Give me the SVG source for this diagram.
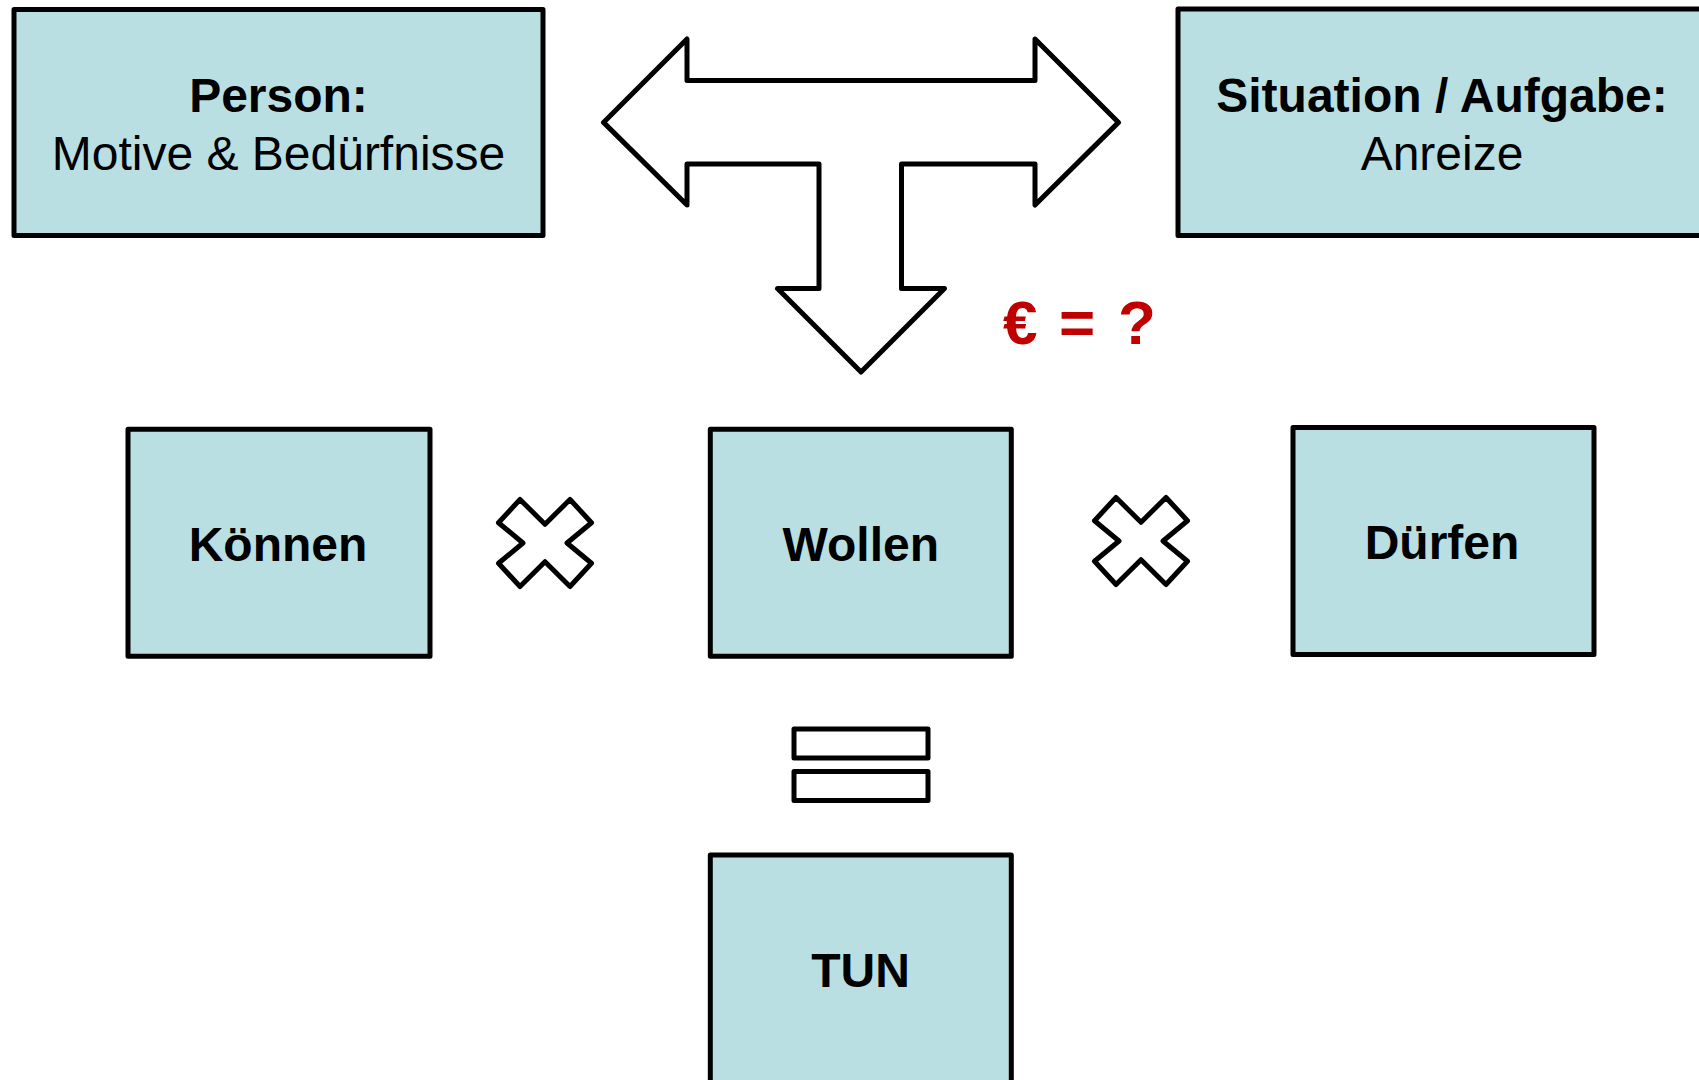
<svg xmlns="http://www.w3.org/2000/svg" width="1699" height="1080" viewBox="0 0 1699 1080">
<style>
.box{fill:#BADFE3;stroke:#000;stroke-width:5;stroke-linejoin:round}
.shape{fill:#fff;stroke:#000;stroke-width:5;stroke-linejoin:round}
.t{font-family:"Liberation Sans",Arial,sans-serif;font-size:48px;fill:#000;text-anchor:middle}
.b{font-weight:bold}
</style>
<rect width="1699" height="1080" fill="#fff"/>
<g id="person">
<rect class="box" x="14" y="9.5" width="529" height="226"/>
<text class="t b" x="278.5" y="111.5">Person:</text>
<text class="t" x="278.5" y="169.5">Motive &amp; Bedürfnisse</text>
</g>
<g id="situation">
<rect class="box" x="1178" y="9" width="560" height="226.5"/>
<text class="t b" x="1442" y="111.5">Situation / Aufgabe:</text>
<text class="t" x="1442" y="169.5">Anreize</text>
</g>
<g id="connectors">
<polygon id="t-arrow" class="shape" points="603.5,122.4 687,39 687,80.5 1035,80.5 1035,39 1118.5,122.4 1035,205 1035,164 901.5,164 901.5,288.5 944.5,288.5 861,372 777.5,288.5 819,288.5 819,164 687,164 687,205"/>
<polygon id="times1" class="shape" transform="translate(545,543)" points="-46.5,-20.3 -25,-43.5 0,-18.7 25,-43.5 46.5,-20.3 22,0 46.5,20.3 25,43.5 0,18.7 -25,43.5 -46.5,20.3 -22,0"/>
<polygon id="times2" class="shape" transform="translate(1141,541)" points="-46.5,-20.3 -25,-43.5 0,-18.7 25,-43.5 46.5,-20.3 22,0 46.5,20.3 25,43.5 0,18.7 -25,43.5 -46.5,20.3 -22,0"/>
<g id="equals">
<rect class="shape" x="794" y="729" width="134" height="29"/>
<rect class="shape" x="794" y="771.5" width="134" height="29"/>
</g>
</g>
<g id="euro">
<text y="344" style="font-family:'Liberation Sans',Arial,sans-serif;font-size:62px;font-weight:bold;fill:#C00000"><tspan x="1003">€</tspan><tspan x="1059">=</tspan><tspan x="1118">?</tspan></text>
</g>
<g id="koennen">
<rect class="box" x="128" y="429.3" width="302" height="227"/>
<text class="t b" x="278" y="560.5">Können</text>
</g>
<g id="wollen">
<rect class="box" x="710.3" y="429.3" width="301" height="227"/>
<text class="t b" x="860.8" y="561">Wollen</text>
</g>
<g id="duerfen">
<rect class="box" x="1293" y="427.5" width="301" height="227"/>
<text class="t b" x="1442" y="559">Dürfen</text>
</g>
<g id="tun">
<rect class="box" x="710.3" y="855" width="301" height="240"/>
<text class="t b" x="860.5" y="987">TUN</text>
</g>
</svg>
